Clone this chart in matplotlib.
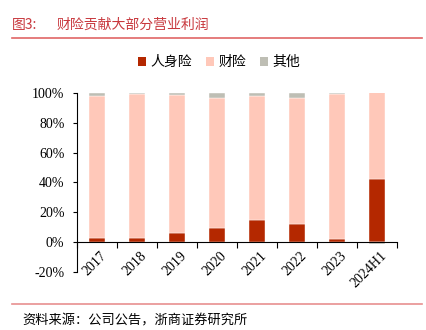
import matplotlib
matplotlib.use("Agg")
import matplotlib.pyplot as plt
import matplotlib.transforms as mtrans
from matplotlib.patches import Patch
from matplotlib.lines import Line2D
import numpy as np

YEARS = ["2017", "2018", "2019", "2020", "2021", "2022", "2023", "2024H1"]
LIFE = [3.0, 2.5, 6.0, 9.5, 15.0, 12.5, 2.0, 42.5]
PC = [95.0, 97.0, 92.5, 87.0, 83.0, 84.0, 97.0, 58.5]
OTHER = [2.0, 0.5, 1.5, 3.5, 2.0, 3.5, 1.0, -1.5]
SERIES = [("人身险", LIFE, "#B42800"), ("财险", PC, "#FFC8B9"), ("其他", OTHER, "#BEBEB4")]

CJK = ["Noto Sans CJK SC", "DejaVu Sans"]
SERIF = ["Liberation Serif", "Noto Sans CJK SC"]

fig = plt.figure(figsize=(4.26, 3.30), dpi=100)
ax = fig.add_axes([77 / 426, 1 - 272 / 330, 320 / 426, 179 / 330])

x = np.arange(len(YEARS))
pos = np.zeros(len(YEARS))
neg = np.zeros(len(YEARS))
for name, vals, color in SERIES:
    v = np.array(vals)
    base = np.where(v >= 0, pos, neg)
    ax.bar(x, v, 0.4, bottom=base, color=color, edgecolor="white", linewidth=0.3, zorder=2)
    pos += np.where(v >= 0, v, 0)
    neg += np.where(v < 0, v, 0)

ax.set_xlim(-0.5, len(YEARS) - 0.5)
ax.set_ylim(-20, 100)
ax.set_yticks(range(-20, 101, 20))
ax.set_yticklabels([f"{t}%" for t in range(-20, 101, 20)], family=SERIF, fontsize=10)
ax.spines["bottom"].set_position(("data", 0))
for s in ("top", "right"):
    ax.spines[s].set_visible(False)
ax.spines["left"].set_linewidth(0.8)
ax.spines["bottom"].set_linewidth(0.8)

ax.set_xticks(np.arange(-0.5, len(YEARS), 1.0))
ax.set_xticklabels([])
ax.set_xticks(x, minor=True)
ax.set_xticklabels(YEARS, minor=True, rotation=45, ha="right", va="top",
                   rotation_mode="anchor", family=SERIF, fontsize=10)
ax.tick_params(axis="x", which="major", direction="out", length=4, width=0.8)
ax.tick_params(axis="x", which="minor", length=0, pad=5)
ax.tick_params(axis="y", direction="out", length=3, width=0.8, pad=6)
# nudge labels so their upper ends sit just right of bar centres
off = mtrans.ScaledTranslation(2 / 72, 0, fig.dpi_scale_trans)
for lab in ax.get_xticklabels(minor=True):
    lab.set_transform(lab.get_transform() + off)

handles = [Patch(facecolor=c, edgecolor="none") for _, _, c in SERIES]
fig.legend(handles, [n for n, _, _ in SERIES], loc="center", bbox_to_anchor=(219 / 426, 1 - 62 / 330),
           ncol=3, frameon=False, prop={"family": CJK, "size": 10},
           handlelength=0.6, handleheight=0.6, handletextpad=0.3, columnspacing=1.0)

fig.text(12 / 426, 1 - 25 / 330, "图3:", color="#C8383D", fontsize=10, family=CJK, va="center")
fig.text(57 / 426, 1 - 25 / 330, "财险贡献大部分营业利润", color="#C8383D", fontsize=10, family=CJK, va="center")
fig.add_artist(Line2D([12 / 426, 422 / 426], [1 - 38 / 330] * 2, color="#E06666", lw=1.2))
fig.add_artist(Line2D([12 / 426, 422 / 426], [1 - 304 / 330] * 2, color="#E89090", lw=1.2))
fig.text(22 / 426, 1 - 321 / 330, "资料来源：公司公告，浙商证券研究所", fontsize=9.5, family=CJK, va="center")

fig.savefig("out.png", dpi=100)
